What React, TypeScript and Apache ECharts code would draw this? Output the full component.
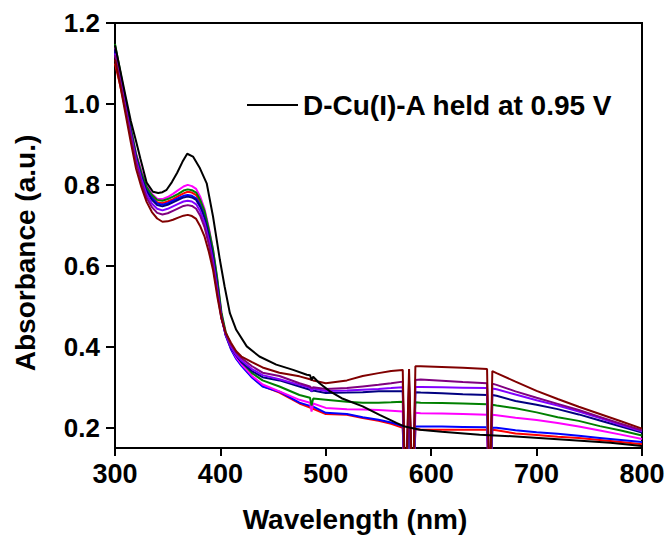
import React, { useEffect, useRef } from "react";
import * as echarts from "echarts";

// Wavelength grid (nm) for the potential-held spectra
const wl = [300, 305, 310, 315, 320, 325, 330, 335, 340, 345, 350, 355, 360, 365, 369, 373, 377, 381, 385, 389, 393, 397, 401, 405, 410, 415, 420, 430, 440, 456, 475, 485, 486.5, 488, 500, 520, 535, 550, 562, 573, 575.5, 579, 582.5, 585, 590, 610, 630, 653, 655.5, 658, 662, 680, 700, 720, 740, 760, 780, 800];

const redVals = [1.10, 1.045, 0.985, 0.925, 0.865, 0.823, 0.79, 0.77, 0.757, 0.755, 0.759, 0.765, 0.772, 0.779, 0.783, 0.781, 0.775, 0.756, 0.728, 0.685, 0.632, 0.56, 0.478, 0.43, 0.396, 0.372, 0.355, 0.325, 0.303, 0.287, 0.26, 0.25, 0.248, 0.247, 0.234, 0.232, 0.224, 0.217, 0.21, 0.2, 0.0, 0.197, 0.0, 0.197, 0.196, 0.195, 0.195, 0.195, 0.0, 0.195, 0.194, 0.186, 0.182, 0.178, 0.175, 0.17, 0.165, 0.159];
const blueVals = [1.13, 1.065, 0.998, 0.932, 0.87, 0.826, 0.79, 0.768, 0.754, 0.751, 0.755, 0.761, 0.767, 0.773, 0.775, 0.773, 0.767, 0.749, 0.722, 0.68, 0.628, 0.557, 0.476, 0.428, 0.394, 0.37, 0.353, 0.324, 0.302, 0.289, 0.262, 0.254, 0.25, 0.252, 0.237, 0.234, 0.226, 0.22, 0.213, 0.204, 0.0, 0.203, 0.0, 0.203, 0.203, 0.203, 0.202, 0.201, 0.0, 0.2, 0.2, 0.194, 0.189, 0.185, 0.18, 0.175, 0.17, 0.165];
const magentaVals = [1.14, 1.075, 1.005, 0.94, 0.878, 0.835, 0.80, 0.778, 0.766, 0.765, 0.77, 0.778, 0.787, 0.796, 0.80, 0.797, 0.79, 0.77, 0.74, 0.695, 0.64, 0.565, 0.48, 0.432, 0.398, 0.374, 0.357, 0.328, 0.307, 0.29, 0.269, 0.262, 0.24, 0.26, 0.249, 0.246, 0.245, 0.244, 0.242, 0.24, 0.0, 0.237, 0.0, 0.237, 0.236, 0.235, 0.234, 0.232, 0.0, 0.232, 0.231, 0.225, 0.219, 0.212, 0.203, 0.193, 0.183, 0.172];
const greenVals = [1.148, 1.08, 1.01, 0.94, 0.875, 0.83, 0.795, 0.775, 0.763, 0.761, 0.765, 0.771, 0.778, 0.786, 0.789, 0.787, 0.781, 0.762, 0.735, 0.69, 0.64, 0.57, 0.485, 0.437, 0.403, 0.38, 0.363, 0.335, 0.317, 0.302, 0.281, 0.274, 0.255, 0.272, 0.269, 0.264, 0.262, 0.262, 0.263, 0.264, 0.0, 0.262, 0.0, 0.263, 0.262, 0.261, 0.26, 0.258, 0.0, 0.257, 0.255, 0.248, 0.238, 0.226, 0.217, 0.204, 0.193, 0.181];
const navyVals = [1.135, 1.068, 1.0, 0.932, 0.868, 0.822, 0.785, 0.763, 0.75, 0.747, 0.751, 0.757, 0.763, 0.769, 0.771, 0.769, 0.763, 0.745, 0.718, 0.676, 0.624, 0.553, 0.475, 0.43, 0.398, 0.378, 0.362, 0.34, 0.325, 0.317, 0.302, 0.294, 0.29, 0.292, 0.286, 0.287, 0.288, 0.29, 0.29, 0.29, 0.0, 0.288, 0.0, 0.288, 0.287, 0.285, 0.283, 0.281, 0.0, 0.281, 0.279, 0.266, 0.257, 0.246, 0.233, 0.218, 0.203, 0.188];
const violetVals = [1.125, 1.06, 0.993, 0.927, 0.862, 0.815, 0.777, 0.754, 0.741, 0.737, 0.741, 0.747, 0.753, 0.759, 0.761, 0.759, 0.752, 0.734, 0.706, 0.664, 0.612, 0.543, 0.472, 0.43, 0.40, 0.38, 0.366, 0.345, 0.33, 0.32, 0.306, 0.299, 0.29, 0.297, 0.291, 0.292, 0.294, 0.296, 0.298, 0.30, 0.0, 0.30, 0.0, 0.301, 0.301, 0.30, 0.299, 0.298, 0.0, 0.297, 0.295, 0.282, 0.268, 0.255, 0.24, 0.224, 0.207, 0.191];
const purpleVals = [1.12, 1.055, 0.988, 0.92, 0.855, 0.807, 0.768, 0.745, 0.731, 0.727, 0.73, 0.736, 0.742, 0.748, 0.75, 0.748, 0.741, 0.723, 0.695, 0.653, 0.60, 0.535, 0.47, 0.432, 0.405, 0.386, 0.372, 0.352, 0.336, 0.328, 0.31, 0.302, 0.298, 0.30, 0.296, 0.298, 0.302, 0.306, 0.31, 0.314, 0.0, 0.316, 0.0, 0.318, 0.319, 0.316, 0.313, 0.31, 0.0, 0.309, 0.306, 0.29, 0.274, 0.259, 0.244, 0.227, 0.21, 0.194];
const maroonVals = [1.11, 1.045, 0.975, 0.905, 0.84, 0.795, 0.758, 0.733, 0.717, 0.709, 0.71, 0.714, 0.719, 0.724, 0.726, 0.723, 0.716, 0.697, 0.672, 0.635, 0.59, 0.525, 0.47, 0.435, 0.41, 0.389, 0.376, 0.362, 0.349, 0.336, 0.327, 0.32, 0.318, 0.317, 0.31, 0.317, 0.328, 0.335, 0.34, 0.343, 0.0, 0.345, 0.0, 0.352, 0.352, 0.35, 0.348, 0.345, 0.0, 0.34, 0.335, 0.314, 0.291, 0.271, 0.252, 0.234, 0.216, 0.198];

// Reference spectrum (black)
const blackWl = [300, 305, 310, 315, 320, 324, 330, 336, 341, 345, 349, 354, 359, 364, 368.5, 374, 380.6, 387, 393, 399.5, 404, 409, 415, 425, 437, 453, 469, 482, 485, 486.5, 488, 494, 504, 515, 535, 551, 567, 575, 589, 610, 646, 684, 731, 770, 800];
const blackVals = [1.145, 1.083, 1.02, 0.958, 0.908, 0.866, 0.806, 0.783, 0.78, 0.782, 0.788, 0.807, 0.83, 0.857, 0.877, 0.87, 0.841, 0.804, 0.722, 0.615, 0.549, 0.483, 0.442, 0.401, 0.376, 0.356, 0.343, 0.331, 0.33, 0.318, 0.326, 0.31, 0.29, 0.273, 0.253, 0.232, 0.212, 0.203, 0.195, 0.19, 0.183, 0.178, 0.17, 0.163, 0.155];

const xTicks = [300, 400, 500, 600, 700, 800];
const yTicks = [0.2, 0.4, 0.6, 0.8, 1.0, 1.2];
const legendName = "D-Cu(I)-A held at 0.95 V";

const colored = [
  { name: "red", color: "#FF0000", vals: redVals },
  { name: "blue", color: "#0000FF", vals: blueVals },
  { name: "magenta", color: "#FF00FF", vals: magentaVals },
  { name: "green", color: "#008000", vals: greenVals },
  { name: "navy", color: "#000080", vals: navyVals },
  { name: "violet", color: "#8000FF", vals: violetVals },
  { name: "purple", color: "#800080", vals: purpleVals },
  { name: "maroon", color: "#800000", vals: maroonVals },
];

const FONT = "'Liberation Sans', Arial, sans-serif";

export default function App() {
  const ref = useRef<HTMLDivElement>(null);
  useEffect(() => {
    if (!ref.current) return;
    const chart = echarts.init(ref.current, null, { renderer: "svg" });
    const series: any[] = colored.map((c) => ({
      name: c.name,
      type: "line",
      symbol: "none",
      clip: true,
      data: wl.map((x, i) => [x, c.vals[i]]),
      lineStyle: { color: c.color, width: 2 },
      itemStyle: { color: c.color },
    }));
    series.push({
      name: legendName,
      type: "line",
      symbol: "none",
      clip: true,
      data: blackWl.map((x, i) => [x, blackVals[i]]),
      lineStyle: { color: "#000", width: 2 },
      itemStyle: { color: "#000" },
    });
    chart.setOption({
      animation: false,
      backgroundColor: "#fff",
      grid: {
        left: 115,
        right: 27,
        top: 23,
        bottom: 87,
        show: true,
        borderColor: "#000",
        borderWidth: 2,
      },
      legend: {
        data: [{ name: legendName, icon: "rect" }],
        left: 242,
        top: 86,
        itemWidth: 51,
        itemHeight: 2,
        itemStyle: { color: "#000" },
        textStyle: { fontSize: 28, fontWeight: "bold", color: "#000", fontFamily: FONT },
      },
      xAxis: {
        type: "value",
        min: 300,
        max: 800,
        interval: 100,
        splitLine: { show: false },
        axisLine: { lineStyle: { color: "#000", width: 2 } },
        axisTick: { length: 8, lineStyle: { color: "#000", width: 2 }, customValues: xTicks },
        axisLabel: {
          customValues: xTicks,
          margin: 12,
          fontSize: 27,
          fontWeight: "bold",
          color: "#000",
          fontFamily: FONT,
        },
      },
      yAxis: {
        type: "value",
        min: 0.15,
        max: 1.2,
        splitLine: { show: false },
        axisLine: { show: true, lineStyle: { color: "#000", width: 2 } },
        axisTick: { show: true, length: 9, lineStyle: { color: "#000", width: 2 }, customValues: yTicks },
        axisLabel: {
          customValues: yTicks,
          margin: 15,
          fontSize: 26,
          fontWeight: "bold",
          color: "#000",
          fontFamily: FONT,
          formatter: (v: number) => v.toFixed(1),
        },
      },
      graphic: [
        {
          type: "text",
          x: 355,
          y: 519,
          style: {
            text: "Wavelength (nm)",
            fontSize: 28,
            fontWeight: "bold",
            fontFamily: FONT,
            fill: "#000",
            textAlign: "center",
            textVerticalAlign: "middle",
          },
        },
        {
          type: "text",
          x: 25,
          y: 253,
          rotation: Math.PI / 2,
          style: {
            text: "Absorbance (a.u.)",
            fontSize: 28,
            fontWeight: "bold",
            fontFamily: FONT,
            fill: "#000",
            textAlign: "center",
            textVerticalAlign: "middle",
          },
        },
      ],
      series,
    });
    return () => chart.dispose();
  }, []);
  return (
    <div
      ref={ref}
      style={{ position: "fixed", left: 0, top: 0, width: 669, height: 535, background: "#fff" }}
    />
  );
}
